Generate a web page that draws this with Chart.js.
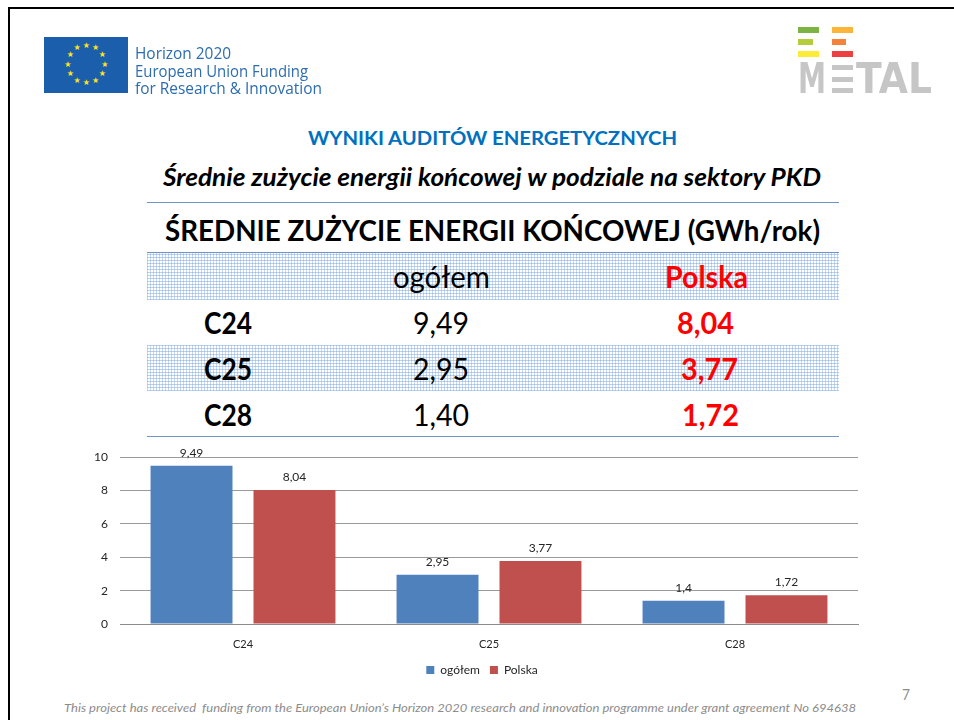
<!DOCTYPE html>
<html lang="pl">
<head>
<meta charset="utf-8">
<title>Średnie zużycie energii końcowej</title>
<script src="https://cdn.jsdelivr.net/npm/chart.js@4/dist/chart.umd.min.js"></script>
<style>
html,body{margin:0;padding:0;background:#fff;overflow:hidden}
#page{position:relative;width:954px;height:720px;overflow:hidden;font-family:Lato,sans-serif;color:#000}
.box{position:absolute}
.t{position:absolute;white-space:nowrap;line-height:1;transform-origin:left center}
.pat{position:absolute;left:147px;width:692px;background-color:#fff;
background-image:repeating-linear-gradient(0deg,rgba(120,165,220,.5) 0 1px,transparent 1px 3px),repeating-linear-gradient(90deg,rgba(120,165,220,.42) 0 1px,transparent 1px 3px)}
.rule{position:absolute;left:147px;width:692px;height:1px;background:#6f95c8}
#logos{position:absolute;left:0;top:0;width:954px;height:110px;filter:blur(.45px)}
#wrap{position:absolute;left:92px;top:438px;width:780px;height:248px}
</style>
</head>
<body>
<div id="page">
  <div class="box" style="left:8px;top:7px;width:946px;height:2px;background:#000"></div>
  <div class="box" style="left:8px;top:7px;width:2px;height:713px;background:#000"></div>
  <div id="logos"></div>
  <div class="rule" style="top:202px"></div>
  <div class="pat" style="top:252px;height:47px;border-top:1px solid #6f95c8"></div>
  <div class="pat" style="top:345px;height:46px"></div>
  <div class="rule" style="top:436px"></div>
  <div id="wrap"><canvas id="c" width="780" height="248"></canvas></div>
</div>
<script>
const categories = ['C24', 'C25', 'C28'];
const seriesNames = ['ogółem', 'Polska'];
const ogolem = [9.49, 2.95, 1.40];
const polska = [8.04, 3.77, 1.72];
const yTicks = [0, 2, 4, 6, 8, 10];

const page = document.getElementById('page');
function put(parent, s, left, cy, width, size, css) {
  const e = document.createElement('div');
  e.className = 't';
  e.textContent = s;
  e.style.cssText = 'left:' + left + 'px;font-size:' + size + 'px;' + (css || '');
  parent.appendChild(e);
  const r = e.getBoundingClientRect();
  e.style.top = (cy - r.height / 2) + 'px';
  e.style.transform = 'scaleX(' + (width / r.width) + ')';
  return e;
}
const BLUE = '#0070c0', RED = '#ff0000';
put(page, 'WYNIKI AUDITÓW ENERGETYCZNYCH', 308, 138, 369, 18, 'font-weight:700;color:' + BLUE);
put(page, 'Średnie zużycie energii końcowej w podziale na sektory PKD', 163, 177, 658, 24, 'font-weight:700;font-style:italic');
put(page, 'ŚREDNIE ZUŻYCIE ENERGII KOŃCOWEJ (GWh/rok)', 165, 229, 655, 29, 'font-weight:700');
put(page, seriesNames[0], 393, 276, 97, 30);
put(page, seriesNames[1], 665, 276, 83, 30, 'font-weight:700;color:' + RED);
const comma2 = v => v.toFixed(2).replace('.', ',');
const rowY = [322, 368, 414];
const polX = [677, 681, 682];
categories.forEach((c, i) => {
  put(page, c, 204, rowY[i], 48, 30, 'font-weight:700');
  put(page, comma2(ogolem[i]), 413, rowY[i], 56, 30);
  put(page, comma2(polska[i]), polX[i], rowY[i], 57, 30, 'font-weight:700;color:' + RED);
});
put(page, 'This project has received  funding from the European Union’s Horizon 2020 research and innovation programme under grant agreement No 694638', 64, 708, 792, 12, 'font-style:italic;color:#8c8c8c;white-space:pre');
put(page, '7', 902, 694, 8, 15, 'color:#8c8c8c');

// logos
const logos = document.getElementById('logos');
function rect(x, y, w, h, col) {
  const d = document.createElement('div');
  d.className = 'box';
  d.style.cssText = 'left:' + x + 'px;top:' + y + 'px;width:' + w + 'px;height:' + h + 'px;background:' + col;
  logos.appendChild(d);
}
rect(44, 37, 84, 56, '#1b5fac');
for (let i = 0; i < 12; i++) {
  const a = i * Math.PI / 6;
  const s = document.createElement('div');
  s.className = 't';
  s.textContent = '★';
  s.style.cssText = 'font-family:"DejaVu Sans";font-size:8px;color:#ffe21a;width:8px;height:8px;line-height:8px;text-align:center;left:' +
    (86.3 + 18.5 * Math.sin(a) - 4) + 'px;top:' + (64.5 - 18.5 * Math.cos(a) - 4) + 'px';
  logos.appendChild(s);
}
const logoBlue = 'color:#2c6db0;font-family:"Open Sans"';
put(logos, 'Horizon 2020', 135, 53, 96, 16, logoBlue);
put(logos, 'European Union Funding', 135, 71, 173, 16, logoBlue);
put(logos, 'for Research & Innovation', 135, 88, 187, 16, logoBlue);
rect(798, 27, 21, 6, '#7cb342');
rect(798, 39, 15, 6, '#b5cc3c');
rect(798, 51, 21, 6, '#fdeb37');
rect(832, 27, 21, 6, '#fbb63a');
rect(832, 39, 14, 6, '#f5823a');
rect(832, 51, 21, 6, '#ee4040');
const METAL = 'font-family:"DejaVu Sans";font-weight:700;color:#c6c6c6';
put(logos, 'M', 798, 79, 28, 42, METAL);
rect(832, 65, 21, 5, '#c6c6c6');
rect(832, 77, 21, 5, '#c6c6c6');
rect(832, 88, 21, 5, '#c6c6c6');
put(logos, 'TAL', 856, 79, 76, 42, METAL);

// chart
const labelPlugin = {
  id: 'valueLabels',
  beforeDraw(chart) {
    if (!chart.$legendShifted) {
      chart.legend.left += 7;
      chart.legend.right += 7;
      chart.$legendShifted = true;
    }
  },
  afterDatasetsDraw(chart) {
    const ctx = chart.ctx;
    ctx.save();
    ctx.font = '12px Lato';
    ctx.fillStyle = '#262626';
    ctx.textAlign = 'center';
    ctx.textBaseline = 'middle';
    chart.data.datasets.forEach((ds, i) => {
      chart.getDatasetMeta(i).data.forEach((bar, j) => {
        ctx.fillText(String(ds.data[j]).replace('.', ','), bar.x, bar.y - 13);
      });
    });
    ctx.restore();
  }
};
new Chart(document.getElementById('c'), {
  type: 'bar',
  plugins: [labelPlugin],
  data: {
    labels: categories,
    datasets: [
      { label: seriesNames[0], data: ogolem, backgroundColor: '#4f81bd' },
      { label: seriesNames[1], data: polska, backgroundColor: '#c0504d' }
    ]
  },
  options: {
    responsive: false,
    animation: false,
    layout: { padding: { top: 6, right: 14, left: 0, bottom: 0 } },
    datasets: { bar: { categoryPercentage: 0.837, barPercentage: 0.796 } },
    scales: {
      x: {
        grid: { display: false, drawTicks: false },
        border: { display: true, color: '#8c8c8c', width: 1 },
        ticks: { padding: 14, color: '#262626', font: { family: 'Lato', size: 11 }, maxRotation: 0 },
        afterFit(s) { s.height = 30; }
      },
      y: {
        min: 0, max: 10,
        afterBuildTicks(s) { s.ticks = yTicks.map(v => ({ value: v })); },
        grid: { color: '#9a9a9a', lineWidth: 1, drawTicks: false },
        border: { display: false },
        ticks: { padding: 12, color: '#262626', font: { family: 'Lato', size: 12 } },
        afterFit(s) { s.width = 28; }
      }
    },
    plugins: {
      tooltip: { enabled: false },
      legend: {
        position: 'bottom',
        labels: { boxWidth: 8, boxHeight: 8, padding: 10, color: '#262626', font: { family: 'Lato', size: 12 } }
      }
    }
  }
});
</script>
</body>
</html>
